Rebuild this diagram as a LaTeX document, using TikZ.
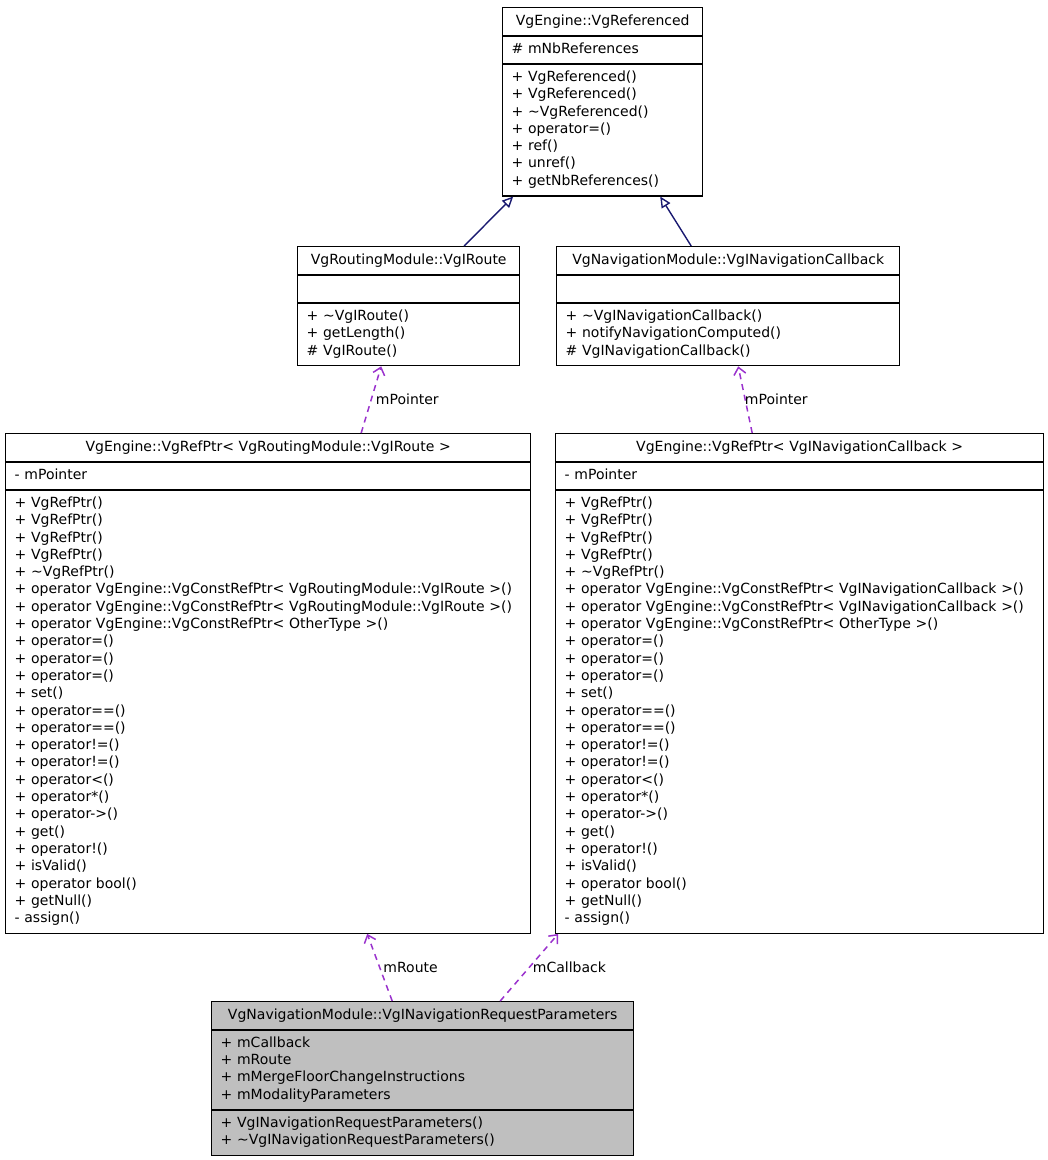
\documentclass[tikz,border=0pt]{standalone}
\usepackage{fontspec}
\setmainfont{DejaVu Sans}
\definecolor{dgNavy}{HTML}{191970}
\definecolor{dgOrchid}{HTML}{9A32CD}
\definecolor{dgGrey}{HTML}{BFBFBF}
\usetikzlibrary{arrows.meta,shapes.multipart}

% centred class name in the first part
\newcommand{\clsname}[1]{\makebox[\linewidth][c]{\strut#1}}
% the member list shared by both smart pointer classes
\newcommand{\refPtrOps}[1]{\strut+ VgRefPtr()\\+ VgRefPtr()\\+ VgRefPtr()\\+ VgRefPtr()\\
  + \textasciitilde VgRefPtr()\\
  + operator VgEngine::VgConstRefPtr< #1 >()\\
  + operator VgEngine::VgConstRefPtr< #1 >()\\
  + operator VgEngine::VgConstRefPtr< OtherType >()\\
  + operator=()\\+ operator=()\\+ operator=()\\+ set()\\
  + operator==()\\+ operator==()\\+ operator!=()\\+ operator!=()\\
  + operator<()\\+ operator*()\\+ operator->()\\+ get()\\+ operator!()\\
  + isValid()\\+ operator bool()\\+ getNull()\\- assign()\strut}

\tikzset{
  classbox/.style={rectangle split, rectangle split parts=3, draw=black,
    line width=1.4pt, fill=white, inner xsep=9pt, inner ysep=4.7pt,
    align=left, anchor=north west, font=\fontsize{14}{17.3}\selectfont},
  inherit/.style={draw=dgNavy, line width=1.4pt,
    -{Triangle[open,length=11pt,width=10pt]}},
  usage/.style={draw=dgOrchid, line width=1.5pt, dash pattern=on 6pt off 5pt,
    -{Straight Barb[length=7pt,width=12pt]}},
  usagelbl/.style={font=\fontsize{14}{17.3}\selectfont, inner sep=1pt,
    anchor=west}
}

\begin{document}
\begin{tikzpicture}[x=1pt,y=-1pt]
  \useasboundingbox (0,0) rectangle (1048,1160);

  % base class
  \node[classbox, text width=182pt] (referenced) at (502,7) {\clsname{VgEngine::VgReferenced}
    \nodepart{two}\strut\# mNbReferences\strut
    \nodepart{three}\strut+ VgReferenced()\\+ VgReferenced()\\+ \textasciitilde VgReferenced()\\
      + operator=()\\+ ref()\\+ unref()\\+ getNbReferences()\strut};

  % interfaces
  \node[classbox, text width=204pt] (iroute) at (297,246) {\clsname{VgRoutingModule::VgIRoute}
    \nodepart{two}\strut
    \nodepart{three}\strut+ \textasciitilde VgIRoute()\\+ getLength()\\\# VgIRoute()\strut};
  \node[classbox, text width=325pt] (callback) at (556,246) {\clsname{VgNavigationModule::VgINavigationCallback}
    \nodepart{two}\strut
    \nodepart{three}\strut+ \textasciitilde VgINavigationCallback()\\+ notifyNavigationComputed()\\\# VgINavigationCallback()\strut};

  % smart pointers
  \node[classbox, text width=507pt] (ptrroute) at (5,433) {\clsname{VgEngine::VgRefPtr< VgRoutingModule::VgIRoute >}
    \nodepart{two}\strut- mPointer\strut
    \nodepart{three}\refPtrOps{VgRoutingModule::VgIRoute}};
  \node[classbox, text width=470pt] (ptrcallback) at (555,433) {\clsname{VgEngine::VgRefPtr< VgINavigationCallback >}
    \nodepart{two}\strut- mPointer\strut
    \nodepart{three}\refPtrOps{VgINavigationCallback}};

  % documented class
  \node[classbox, fill=dgGrey, text width=404pt] (request) at (211,1001) {\clsname{VgNavigationModule::VgINavigationRequestParameters}
    \nodepart{two}\strut+ mCallback\\+ mRoute\\+ mMergeFloorChangeInstructions\\+ mModalityParameters\strut
    \nodepart{three}\strut+ VgINavigationRequestParameters()\\+ \textasciitilde VgINavigationRequestParameters()\strut};

  \draw[inherit] ([xshift=55.5pt]iroute.north) -- ([xshift=-89.5pt]referenced.south);
  \draw[inherit] ([xshift=-37pt]callback.north) -- ([xshift=57.5pt]referenced.south);

  \draw[usage] ([xshift=93pt]ptrroute.north) -- node[usagelbl, xshift=3pt] {mPointer} ([xshift=-27.5pt]iroute.south);
  \draw[usage] ([xshift=-47.5pt]ptrcallback.north) -- node[usagelbl, xshift=-2pt] {mPointer} ([xshift=10pt]callback.south);
  \draw[usage] ([xshift=-30.5pt]request.north) -- node[usagelbl, xshift=2pt] {mRoute} ([xshift=99pt]ptrroute.south);
  \draw[usage] ([xshift=77.5pt]request.north) -- node[usagelbl, xshift=2pt] {mCallback} ([xshift=-241.5pt]ptrcallback.south);
\end{tikzpicture}
\end{document}
